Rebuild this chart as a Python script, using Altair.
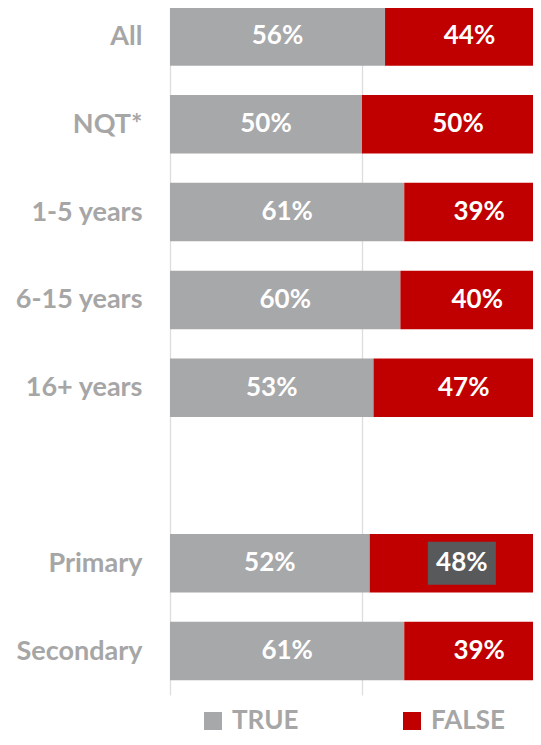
import altair as alt
import pandas as pd

categories = ["All", "NQT*", "1-5 years", "6-15 years", "16+ years", "Primary", "Secondary"]
positions = [0, 1, 2, 3, 4, 6, 7]
true_pct = [56, 50, 61, 60, 53, 52, 61]
false_pct = [44, 50, 39, 40, 47, 48, 39]
series = ["TRUE", "FALSE"]
series_colors = ["#A7A8AA", "#C00000"]
boxed_label = ("Primary", "FALSE")

rows = []
for c, p, t, f in zip(categories, positions, true_pct, false_pct):
    rows.append(dict(cat=c, pos=p, series="TRUE", start=0.0, end=t / 100, val=t))
    rows.append(dict(cat=c, pos=p, series="FALSE", start=t / 100, end=(t + f) / 100, val=f))
df = pd.DataFrame(rows)
df["mid"] = (df["start"] + df["end"]) / 2
df["lo"] = df["pos"] - 0.333
df["hi"] = df["pos"] + 0.333
df["label"] = df["val"].astype(str) + "%"
df["boxed"] = (df["cat"] == boxed_label[0]) & (df["series"] == boxed_label[1])

names = [""] * (max(positions) + 1)
for c, p in zip(categories, positions):
    names[p] = c
label_expr = "[" + ",".join("'" + n + "'" for n in names) + "][datum.value]"

FONT = "Lato"
xscale = alt.Scale(domain=[0, 1], nice=False, zero=True)
yscale = alt.Scale(domain=[-0.4157, 7.5], reverse=True, nice=False, zero=False)

bars = alt.Chart(df).mark_bar().encode(
    x=alt.X("start:Q", scale=xscale,
            axis=alt.Axis(values=[0, 0.5, 1], grid=True, gridColor="#DDDDDD", gridWidth=1.3,
                          labels=False, ticks=False, domain=False, title=None)),
    x2="end:Q",
    y=alt.Y("lo:Q", scale=yscale,
            axis=alt.Axis(values=positions, labelExpr=label_expr, grid=False, ticks=False,
                          domain=False, labelPadding=28, labelFont=FONT, labelFontSize=27,
                          labelFontWeight="bold", labelColor="#A6A6A6",
                          minExtent=162, maxExtent=162, title=None)),
    y2="hi:Q",
    color=alt.Color("series:N", scale=alt.Scale(domain=series, range=series_colors),
                    legend=alt.Legend(orient="none", legendX=30, legendY=708,
                                      direction="horizontal", title=None,
                                      symbolType="square", symbolSize=324,
                                      symbolStrokeWidth=0, labelFont=FONT,
                                      labelFontSize=26, labelFontWeight="bold",
                                      labelColor="#A6A6A6", columnPadding=100,
                                      labelOffset=6, padding=0)),
)

box = alt.Chart(df).transform_filter("datum.boxed").mark_rect(
    color="#58595B", xOffset=-34, x2Offset=34, yOffset=-21.5, y2Offset=21.5
).encode(
    x=alt.X("mid:Q", scale=xscale),
    x2="mid:Q",
    y=alt.Y("pos:Q", scale=yscale),
    y2="pos:Q",
)

labels = alt.Chart(df).mark_text(
    font=FONT, fontWeight="bold", fontSize=26, color="white",
    align="center", baseline="middle"
).encode(
    x=alt.X("mid:Q", scale=xscale),
    y=alt.Y("pos:Q", scale=yscale),
    text="label:N",
)

chart = alt.layer(bars, box, labels).properties(
    width=384, height=695,
    padding={"left": 0, "top": -8, "right": -21, "bottom": 0},
    background="white",
).configure_view(strokeWidth=0)

chart.save("out.html", embed_options={"renderer": "svg", "actions": False})
